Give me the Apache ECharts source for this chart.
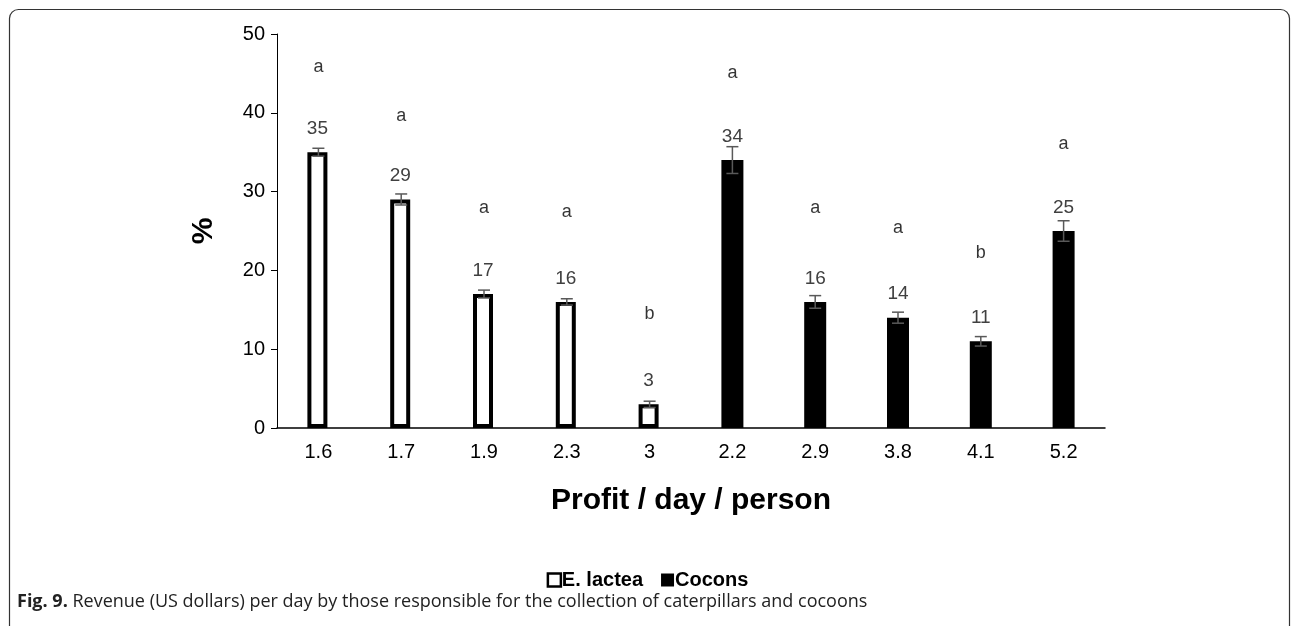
<!DOCTYPE html>
<html>
<head>
<meta charset="utf-8">
<script src="https://cdn.jsdelivr.net/npm/echarts@6/dist/echarts.min.js"></script>
<style>
html, body { margin: 0; padding: 0; background: #fff; }
#main { width: 1295px; height: 626px; }
</style>
</head>
<body>
<div id="main"></div>
<script>
// data
var categories = ['1.6', '1.7', '1.9', '2.3', '3', '2.2', '2.9', '3.8', '4.1', '5.2']
var lacteaValues = [35, 29, 17, 16, 3, '-', '-', '-', '-', '-']
var coconsValues = ['-', '-', '-', '-', '-', 34, 16, 14, 11, 25]
var errorSizes = [0.5, 0.7, 0.5, 0.4, 0.4, 1.7, 0.8, 0.7, 0.6, 1.3]
var letters = ['a', 'a', 'a', 'a', 'b', 'a', 'a', 'a', 'b', 'a']
var letterHeights = [45.8, 39.6, 27.9, 27.4, 14.5, 45, 27.9, 25.4, 22.2, 36]

var chart = echarts.init(document.getElementById('main'))

// error bar data: [index, low, high]
var errData = []
for (let i = 0; i < categories.length; i++) {
    let v = lacteaValues[i] !== '-' ? lacteaValues[i] : coconsValues[i]
    errData.push([i, v - errorSizes[i], v + errorSizes[i]])
}
var letterData = []
for (let i = 0; i < categories.length; i++) {
    letterData.push({ value: [i, letterHeights[i]], name: letters[i] })
}

var valueLabel = {
    show: true,
    position: 'top',
    distance: 14,
    fontFamily: 'Liberation Sans',
    fontSize: 19,
    color: '#404040'
}

chart.setOption({
    animation: false,
    grid: { left: 277, right: 190, top: 34, bottom: 198 },
    legend: {
        bottom: 31,
        left: 'center',
        itemWidth: 13,
        itemHeight: 13,
        itemGap: 18,
        textStyle: { fontFamily: 'Liberation Sans', fontWeight: 'bold', fontSize: 20, color: '#000', padding: [0, 0, 0, -4] },
        data: [
            { name: 'E. lactea', icon: 'rect', itemStyle: { color: '#fff', borderColor: '#000', borderWidth: 2.5 } },
            { name: 'Cocons', icon: 'rect', itemStyle: { color: '#000' } }
        ]
    },
    xAxis: {
        type: 'category',
        data: categories,
        name: 'Profit / day / person',
        nameLocation: 'middle',
        nameGap: 58,
        nameTextStyle: { fontFamily: 'Liberation Sans', fontWeight: 'bold', fontSize: 30, color: '#000' },
        axisLine: { lineStyle: { color: '#000', width: 1.5 } },
        axisTick: { show: false },
        axisLabel: { fontFamily: 'Liberation Sans', fontSize: 20, color: '#000', margin: 14 }
    },
    yAxis: {
        type: 'value',
        min: 0,
        max: 50,
        interval: 10,
        name: '%',
        nameLocation: 'middle',
        nameGap: 58,
        nameRotate: 90,
        nameTextStyle: { fontFamily: 'Liberation Sans', fontWeight: 'bold', fontSize: 30, color: '#000' },
        axisLine: { show: true, lineStyle: { color: '#000', width: 1 } },
        axisTick: { show: true, length: 6, lineStyle: { color: '#000' } },
        splitLine: { show: false },
        axisLabel: { fontFamily: 'Liberation Sans', fontSize: 20, color: '#000', margin: 12 }
    },
    series: [
        {
            name: 'E. lactea',
            type: 'bar',
            data: lacteaValues,
            barWidth: 20,
            barGap: '-100%',
            itemStyle: { color: '#fff', borderColor: '#000', borderWidth: 4 },
            label: valueLabel
        },
        {
            name: 'Cocons',
            type: 'bar',
            data: coconsValues,
            barWidth: 22,
            itemStyle: { color: '#000' },
            label: valueLabel
        },
        {
            name: 'err',
            type: 'custom',
            data: errData,
            z: 10,
            renderItem: function (params, api) {
                let x = api.coord([api.value(0), api.value(1)])[0]
                let lo = api.coord([api.value(0), api.value(1)])[1]
                let hi = api.coord([api.value(0), api.value(2)])[1]
                let half = 6
                let style = { stroke: '#595959', lineWidth: 1.5 }
                return {
                    type: 'group',
                    children: [
                        { type: 'line', shape: { x1: x, y1: lo, x2: x, y2: hi }, style: style },
                        { type: 'line', shape: { x1: x - half, y1: lo, x2: x + half, y2: lo }, style: style },
                        { type: 'line', shape: { x1: x - half, y1: hi, x2: x + half, y2: hi }, style: style }
                    ]
                }
            }
        },
        {
            name: 'letters',
            type: 'scatter',
            data: letterData,
            symbolSize: 1,
            itemStyle: { color: 'transparent' },
            label: {
                show: true,
                position: 'inside',
                formatter: '{b}',
                fontFamily: 'Liberation Sans Narrow, Liberation Sans',
                fontSize: 18,
                color: '#000'
            }
        }
    ],
    graphic: [
        {
            type: 'rect',
            left: 7,
            top: 7,
            shape: { width: 1280, height: 660, r: 9 },
            style: { fill: 'none', stroke: '#333', lineWidth: 1.2 },
            silent: true
        },
        {
            type: 'text',
            left: 17,
            top: 593,
            style: {
                text: '{b|Fig. 9.} Revenue (US dollars) per day by those responsible for the collection of caterpillars and cocoons',
                fontFamily: 'Open Sans',
                fontSize: 18,
                fill: '#222',
                rich: {
                    b: { fontFamily: 'Open Sans', fontWeight: 'bold', fontSize: 18, fill: '#222' }
                }
            }
        }
    ]
})
</script>
</body>
</html>
